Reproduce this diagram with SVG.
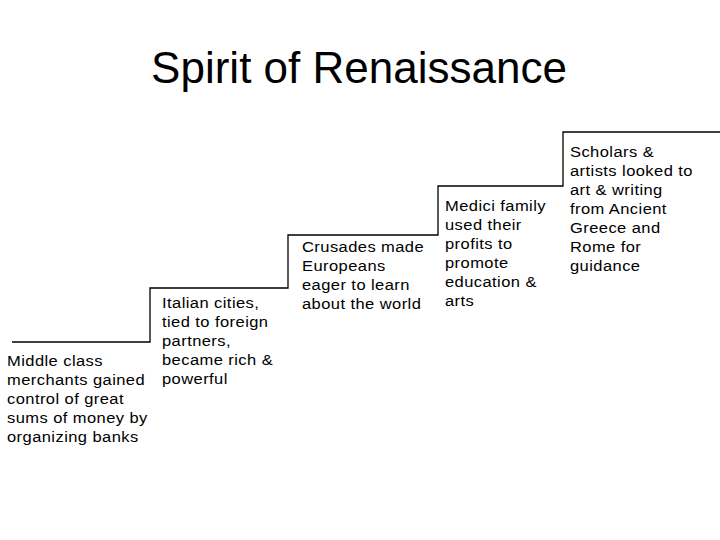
<svg xmlns="http://www.w3.org/2000/svg" width="720" height="540" viewBox="0 0 720 540">
<style>
text{font-family:"Liberation Sans",Arial,sans-serif;fill:#000}
.t{font-size:15px;letter-spacing:0.4px;transform-box:fill-box}
.h{font-size:44px}
</style>
<rect width="720" height="540" fill="#fff"/>
<text class="h" x="359" y="83" text-anchor="middle">Spirit of Renaissance</text>
<g id="connectors">
<path d="M12,342H150V288H288V235H438V186H563V132H720" fill="none" stroke="#000" stroke-width="1.3"/>
</g>
<g id="step1"><text class="t" transform="translate(7,366) scale(1.1,1)" x="0" y="0"><tspan x="0">Middle class</tspan><tspan x="0" dy="19">merchants gained</tspan><tspan x="0" dy="19">control of great</tspan><tspan x="0" dy="19">sums of money by</tspan><tspan x="0" dy="19">organizing banks</tspan></text></g>
<g id="step2"><text class="t" transform="translate(162,308) scale(1.1,1)" x="0" y="0"><tspan x="0">Italian cities,</tspan><tspan x="0" dy="19">tied to foreign</tspan><tspan x="0" dy="19">partners,</tspan><tspan x="0" dy="19">became rich &amp;</tspan><tspan x="0" dy="19">powerful</tspan></text></g>
<g id="step3"><text class="t" transform="translate(302,252) scale(1.1,1)" x="0" y="0"><tspan x="0">Crusades made</tspan><tspan x="0" dy="19">Europeans</tspan><tspan x="0" dy="19">eager to learn</tspan><tspan x="0" dy="19">about the world</tspan></text></g>
<g id="step4"><text class="t" transform="translate(445,211) scale(1.1,1)" x="0" y="0"><tspan x="0">Medici family</tspan><tspan x="0" dy="19">used their</tspan><tspan x="0" dy="19">profits to</tspan><tspan x="0" dy="19">promote</tspan><tspan x="0" dy="19">education &amp;</tspan><tspan x="0" dy="19">arts</tspan></text></g>
<g id="step5"><text class="t" transform="translate(570,157) scale(1.1,1)" x="0" y="0"><tspan x="0">Scholars &amp;</tspan><tspan x="0" dy="19">artists looked to</tspan><tspan x="0" dy="19">art &amp; writing</tspan><tspan x="0" dy="19">from Ancient</tspan><tspan x="0" dy="19">Greece and</tspan><tspan x="0" dy="19">Rome for</tspan><tspan x="0" dy="19">guidance</tspan></text></g>
</svg>
